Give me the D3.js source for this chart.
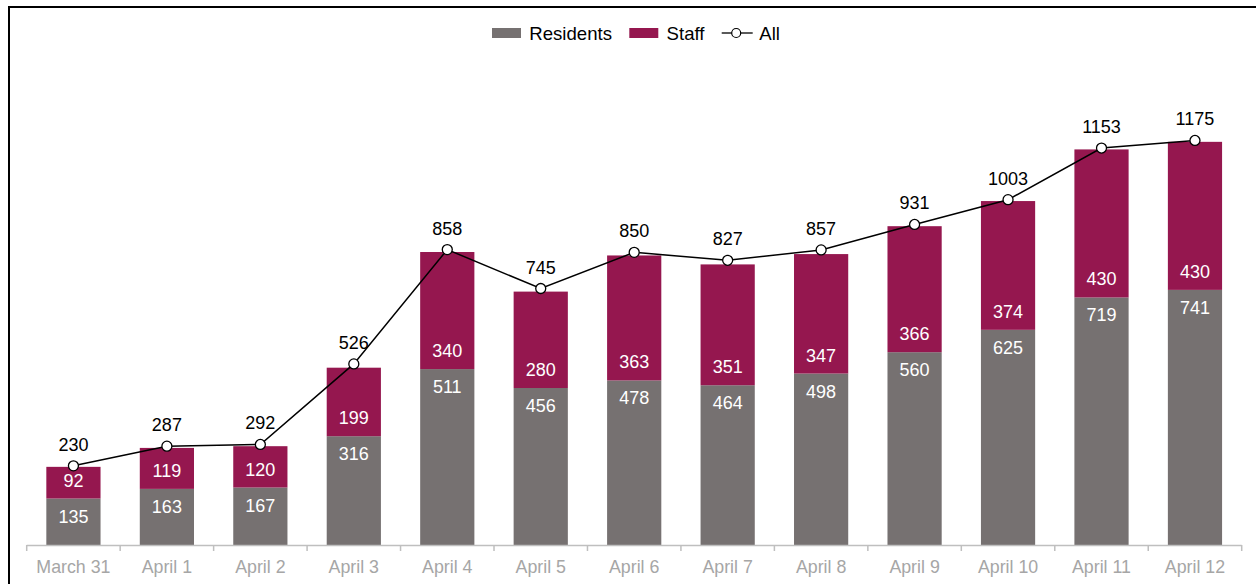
<!DOCTYPE html>
<html>
<head>
<meta charset="utf-8">
<script src="https://cdn.jsdelivr.net/npm/d3@7"></script>
<style>
  html, body { margin: 0; padding: 0; background: #fff; }
  svg { display: block; font-family: "Liberation Sans", Arial, sans-serif; }
</style>
</head>
<body>
<svg id="chart" width="1256" height="584"></svg>
<script>
const categories = ["March 31", "April 1", "April 2", "April 3", "April 4", "April 5", "April 6",
                    "April 7", "April 8", "April 9", "April 10", "April 11", "April 12"];
const residents = [135, 163, 167, 316, 511, 456, 478, 464, 498, 560, 625, 719, 741];
const staff     = [92, 119, 120, 199, 340, 280, 363, 351, 347, 366, 374, 430, 430];
const allCases  = [230, 287, 292, 526, 858, 745, 850, 827, 857, 931, 1003, 1153, 1175];
const seriesNames = ["Residents", "Staff", "All"];
const colors = { Residents: "#767171", Staff: "#95174f" };

const svg = d3.select("#chart");

// frame
svg.append("rect")
  .attr("x", 9).attr("y", 7).attr("width", 1400).attr("height", 800)
  .attr("fill", "none").attr("stroke", "#000").attr("stroke-width", 2);

const x = d3.scaleBand().domain(categories).range([26.7, 1241.7]).paddingInner(0.42).paddingOuter(0.21);
const y = d3.scaleLinear().domain([0, 1400]).range([545, 63]);

const rows = categories.map((c, i) => ({ cat: c, Residents: residents[i], Staff: staff[i], All: allCases[i] }));
const stack = d3.stack().keys(["Residents", "Staff"])(rows);

// bars
const g = svg.append("g");
stack.forEach(layer => {
  g.append("g").selectAll("rect").data(layer).join("rect")
    .attr("x", d => x(d.data.cat))
    .attr("width", x.bandwidth())
    .attr("y", d => y(d[1]))
    .attr("height", d => y(d[0]) - y(d[1]))
    .attr("fill", colors[layer.key]);
});

// x axis
const xAxisScale = d3.scalePoint().domain(d3.range(categories.length + 1)).range([26.7, 1241.7]);
const axisG = svg.append("g");
axisG.append("line").attr("x1", 26.7).attr("x2", 1241.7).attr("y1", 545.5).attr("y2", 545.5)
  .attr("stroke", "#bfbfbf").attr("stroke-width", 1.5);
axisG.selectAll("line.tick").data(xAxisScale.domain()).join("line").attr("class", "tick")
  .attr("x1", d => xAxisScale(d)).attr("x2", d => xAxisScale(d))
  .attr("y1", 545).attr("y2", 551)
  .attr("stroke", "#bfbfbf").attr("stroke-width", 1.5);
axisG.selectAll("text").data(categories).join("text")
  .attr("x", d => x(d) + x.bandwidth() / 2)
  .attr("y", 567)
  .attr("text-anchor", "middle").attr("dominant-baseline", "central")
  .attr("font-size", 17.8).attr("fill", "#a6a6a6")
  .text(d => d);

// bar labels
const labG = svg.append("g").attr("font-size", 18).attr("fill", "#fff").attr("text-anchor", "middle");
labG.selectAll("text.res").data(rows).join("text").attr("class", "res")
  .attr("x", d => x(d.cat) + x.bandwidth() / 2)
  .attr("y", d => y(d.Residents) + 18)
  .attr("dominant-baseline", "central")
  .text(d => d.Residents);
labG.selectAll("text.stf").data(rows).join("text").attr("class", "stf")
  .attr("x", d => x(d.cat) + x.bandwidth() / 2)
  .attr("y", d => y(d.Residents) - 18)
  .attr("dominant-baseline", "central")
  .text(d => d.Staff);

// line
const line = d3.line().x(d => x(d.cat) + x.bandwidth() / 2).y(d => y(d.All));
svg.append("path").datum(rows).attr("d", line)
  .attr("fill", "none").attr("stroke", "#000").attr("stroke-width", 1.5);
svg.append("g").selectAll("circle").data(rows).join("circle")
  .attr("cx", d => x(d.cat) + x.bandwidth() / 2)
  .attr("cy", d => y(d.All))
  .attr("r", 5).attr("fill", "#fff").attr("stroke", "#000").attr("stroke-width", 1.3);
svg.append("g").selectAll("text").data(rows).join("text")
  .attr("x", d => x(d.cat) + x.bandwidth() / 2)
  .attr("y", d => y(d.All) - 21)
  .attr("text-anchor", "middle").attr("dominant-baseline", "central")
  .attr("font-size", 18).attr("fill", "#000")
  .text(d => d.All);

// legend
const leg = svg.append("g").attr("font-size", 18.6);
const legItems = [
  { name: seriesNames[0], x: 492, type: "rect" },
  { name: seriesNames[1], x: 629.3, type: "rect" },
  { name: seriesNames[2], x: 721.7, type: "line" }
];
legItems.forEach(it => {
  if (it.type === "rect") {
    leg.append("rect").attr("x", it.x).attr("y", 28).attr("width", 29).attr("height", 10)
      .attr("fill", colors[it.name]);
    leg.append("text").attr("x", it.x + 37.3).attr("y", 33).attr("dominant-baseline", "central")
      .attr("fill", "#000").text(it.name);
  } else {
    leg.append("line").attr("x1", it.x).attr("x2", it.x + 31).attr("y1", 33).attr("y2", 33)
      .attr("stroke", "#000").attr("stroke-width", 1.3);
    leg.append("circle").attr("cx", it.x + 14.5).attr("cy", 33).attr("r", 4.5)
      .attr("fill", "#fff").attr("stroke", "#000").attr("stroke-width", 1.2);
    leg.append("text").attr("x", it.x + 37.6).attr("y", 33).attr("dominant-baseline", "central")
      .attr("fill", "#000").text(it.name);
  }
});
</script>
</body>
</html>
